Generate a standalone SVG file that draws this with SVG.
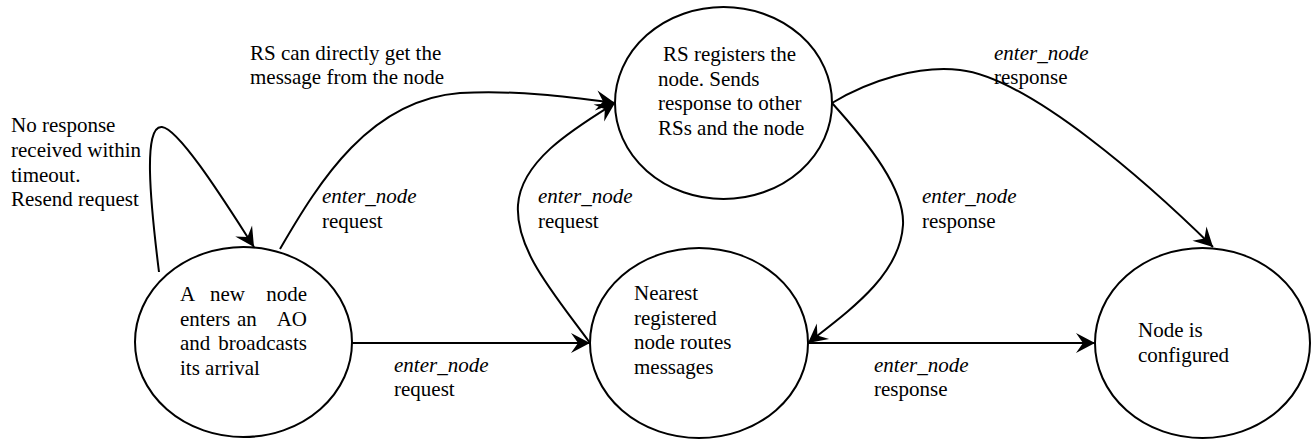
<svg xmlns="http://www.w3.org/2000/svg" width="1311" height="439" viewBox="0 0 1311 439">
<style>
  .node ellipse { fill: #fff; stroke: #000; stroke-width: 2; }
  text { font-family: "Liberation Serif", "Times New Roman", Times, serif; font-size: 21px; fill: #000; }
  .it { font-style: italic; }
  .end { text-anchor: end; }
  .edge { fill: none; stroke: #000; stroke-width: 2; marker-end: url(#arrow); }
</style>
<defs>
  <marker id="arrow" markerUnits="userSpaceOnUse" viewBox="-20 -11 22 22" refX="0" refY="0" markerWidth="22" markerHeight="22" orient="auto">
    <path d="M0,0 L-19,-10 L-12,0 L-19,10 Z" fill="#000"/>
  </marker>
</defs>
<rect width="1311" height="439" fill="#fff"/>

<g id="connectors">
  <path class="edge" d="M159,272 C150,200 143,125 162,127 C180,129 230,210 254,247"/>
  <path class="edge" d="M280,249 C320,180 370,100 460,93 C520,90 570,97 615,103"/>
  <path class="edge" d="M590,343 C555,295 515,250 518,205 C521,160 575,128 615,103"/>
  <path class="edge" d="M832,103 C870,80 920,65 960,70 C1030,78 1150,185 1213,247"/>
  <path class="edge" d="M832,103 C870,145 905,190 903,225 C900,275 850,310 808,343"/>
  <path class="edge" d="M352,343 L590,343"/>
  <path class="edge" d="M808,343 L1095,343"/>
</g>

<g id="node-new" class="node">
  <ellipse cx="243.5" cy="342" rx="108.5" ry="95"/>
  <text x="180" y="301">A</text>
  <text x="210" y="301">new</text>
  <text x="307" y="301" class="end">node</text>
  <text x="180" y="325.5">enters</text>
  <text x="237" y="325.5">an</text>
  <text x="307" y="325.5" class="end">AO</text>
  <text x="180" y="350">and</text>
  <text x="307" y="350" class="end">broadcasts</text>
  <text x="180" y="374.5">its arrival</text>
</g>

<g id="node-nearest" class="node">
  <ellipse cx="699" cy="343" rx="109" ry="95"/>
  <text x="634" y="300">Nearest</text>
  <text x="634" y="324.5">registered</text>
  <text x="634" y="349">node routes</text>
  <text x="634" y="373.5">messages</text>
</g>

<g id="node-rs" class="node">
  <ellipse cx="723.5" cy="103" rx="108.5" ry="96"/>
  <text x="663" y="61">RS registers the</text>
  <text x="658" y="85.5">node. Sends</text>
  <text x="658" y="110">response to other</text>
  <text x="658" y="134.5">RSs and the node</text>
</g>

<g id="node-configured" class="node">
  <ellipse cx="1202.5" cy="343" rx="107.5" ry="95"/>
  <text x="1138" y="337">Node is</text>
  <text x="1138" y="362">configured</text>
</g>

<g id="labels">
  <text x="11" y="132">No response</text>
  <text x="11" y="157">received within</text>
  <text x="11" y="181.5">timeout.</text>
  <text x="11" y="206">Resend request</text>

  <text x="250" y="60">RS can directly get the</text>
  <text x="250" y="84">message from the node</text>

  <text x="322" y="203" class="it">enter_node</text>
  <text x="322" y="228">request</text>

  <text x="538" y="203" class="it">enter_node</text>
  <text x="538" y="228">request</text>

  <text x="994" y="60" class="it">enter_node</text>
  <text x="994" y="84">response</text>

  <text x="922" y="203" class="it">enter_node</text>
  <text x="922" y="228">response</text>

  <text x="394" y="372" class="it">enter_node</text>
  <text x="394" y="396">request</text>

  <text x="874" y="372" class="it">enter_node</text>
  <text x="874" y="396">response</text>
</g>
</svg>
